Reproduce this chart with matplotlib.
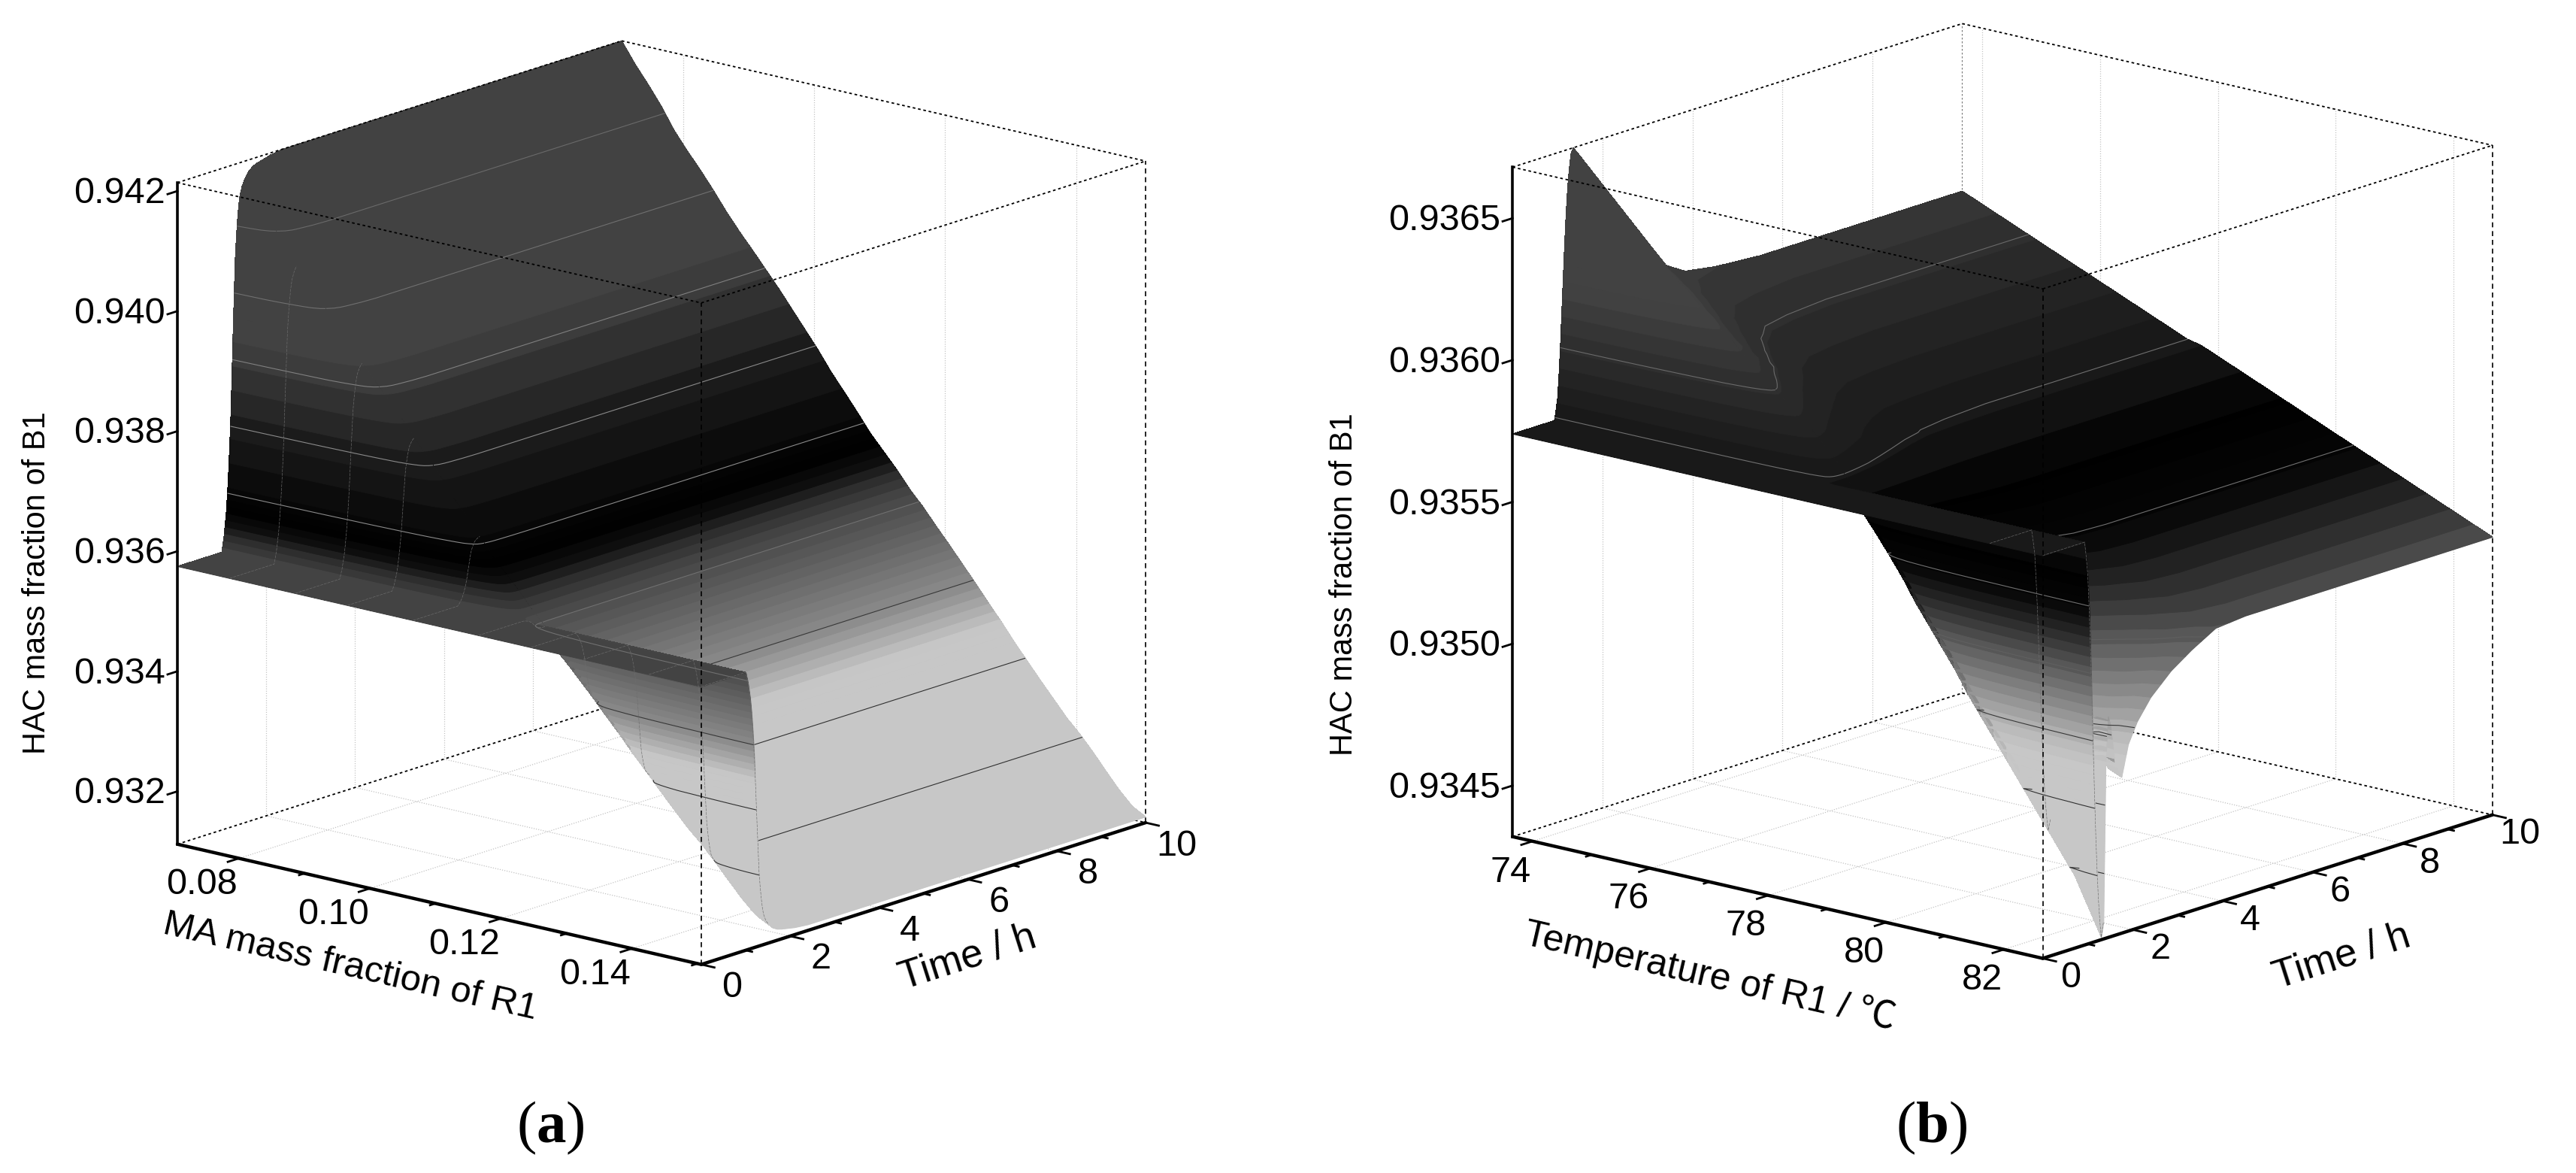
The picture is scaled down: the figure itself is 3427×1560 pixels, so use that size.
import numpy as np
import matplotlib
matplotlib.use("Agg")
import matplotlib.pyplot as plt
from contourpy import contour_generator
from mpl_toolkits.mplot3d import proj3d
from mpl_toolkits.mplot3d.art3d import Poly3DCollection

plt.rcParams['font.family'] = ['Liberation Sans', 'Noto Sans CJK SC']
plt.rcParams['mathtext.fontset'] = 'custom'
plt.rcParams['mathtext.bf'] = 'Liberation Serif:bold'
plt.rcParams['mathtext.rm'] = 'Liberation Serif'

# panel (a), values
ma_a = [0.0706, 0.0726, 0.0746, 0.0766, 0.0786, 0.0806, 0.0826, 0.0846, 0.0866, 0.0886, 0.0906,
        0.0926, 0.0946, 0.0966, 0.0986, 0.1006, 0.1026, 0.1046, 0.1066, 0.1086, 0.1106,
        0.1126, 0.1146, 0.1166, 0.1186, 0.1206, 0.1226, 0.1246, 0.1266, 0.1286, 0.1306,
        0.1326, 0.1346, 0.1366, 0.1386, 0.1406, 0.1426, 0.1446, 0.1466, 0.1486, 0.1506]
hac_final_a = [0.94214, 0.94181, 0.94152, 0.94121, 0.94085, 0.94056, 0.94029, 0.94000, 0.93969, 0.93941, 0.93915,
               0.93888, 0.93861, 0.93832, 0.93803, 0.93774, 0.93742, 0.93714, 0.93685, 0.93655, 0.93630,
               0.93605, 0.93577, 0.93553, 0.93526, 0.93500, 0.93473, 0.93446, 0.93418, 0.93391, 0.93362,
               0.93335, 0.93308, 0.93282, 0.93256, 0.93234, 0.93209, 0.93182, 0.93156, 0.93134, 0.93122]
hac_start_a = 0.93575
time_a = [0, 0.5, 1.0, 1.025, 1.05, 1.075, 1.1, 1.125, 1.15, 1.175, 1.2, 1.225, 1.25, 1.275, 1.3, 1.325,
          1.35, 1.375, 1.4, 1.45, 1.5, 1.6, 1.7, 1.8, 2.1, 2.4, 6, 10]
step_a = [0, 0, 0, 0.02, 0.04, 0.07, 0.10, 0.145, 0.2, 0.265, 0.34, 0.44, 0.55, 0.65, 0.75, 0.805,
          0.85, 0.885, 0.91, 0.935, 0.95, 0.97, 0.98, 0.985, 0.995, 1, 1, 1]
lines_a = [0.9323, 0.9334, 0.9345, 0.9356, 0.9367, 0.9378, 0.9389, 0.9400, 0.9411]
line_grey_a = ['#303030', '#303030', '#383838', '#707070', '#8a8a8a', '#8a8a8a', '#808080', '#707070', '#6a6a6a']
xticks_a = [0.08, 0.10, 0.12, 0.14]
xminor_a = [0.09, 0.11, 0.13, 0.15]
xlabels_a = ['0.08', '0.10', '0.12', '0.14']
zticks_a = [0.932, 0.934, 0.936, 0.938, 0.940, 0.942]
zlabels_a = ['0.932', '0.934', '0.936', '0.938', '0.940', '0.942']
grey_z_a = [0.9300, 0.9339, 0.93446, 0.9355, 0.93575, 0.9360, 0.9362, 0.93645, 0.9368, 0.93728, 0.93775, 0.93808,
            0.93848, 0.9388, 0.9392, 0.9430]
grey_v_a = [0.78, 0.78, 0.55, 0.33, 0.27, 0.18, 0.06, 0.0, 0.03, 0.07, 0.10, 0.14, 0.18, 0.21, 0.26, 0.26]

# panel (b)
temp_b = [73.66, 73.885, 74.11, 74.335, 74.56, 74.785, 75.01, 75.235, 75.46, 75.685, 75.91,
          76.135, 76.36, 76.585, 76.81, 77.035, 77.26, 77.485, 77.71, 77.935, 78.16,
          78.385, 78.61, 78.835, 79.06, 79.285, 79.51, 79.735, 79.96, 80.185, 80.41,
          80.635, 80.86, 81.085, 81.31, 81.535, 81.76, 81.985, 82.21, 82.435, 82.66]
hac_end_b = [0.93609, 0.93607, 0.93605, 0.93603, 0.93601, 0.93599, 0.93597, 0.93595, 0.93593, 0.93591, 0.93589,
             0.93587, 0.93585, 0.93583, 0.93581, 0.93579, 0.93577, 0.93575, 0.93574, 0.93572, 0.93570,
             0.93568, 0.93566, 0.93564, 0.93562, 0.93560, 0.93558, 0.93556, 0.93554, 0.93552, 0.93550,
             0.93548, 0.93546, 0.93544, 0.93542, 0.93540, 0.93538, 0.93536, 0.93534, 0.93532, 0.93530]
hac_peak_b = [0.93668, 0.93663, 0.93658, 0.93653, 0.93648, 0.93643, 0.93638, 0.93633, 0.93628, 0.93624, 0.93620,
              0.93616, 0.93613, 0.93608, 0.93604, 0.93600, 0.93596, 0.93592, 0.93588, 0.93583, 0.93578,
              0.93571, 0.93564, 0.93557, 0.93550, 0.93543, 0.93535, 0.93528, 0.93521, 0.93514, 0.93506,
              0.93499, 0.93492, 0.93485, 0.93478, 0.93471, 0.93464, 0.93457, 0.93450, 0.93440, 0.93430]
hac_start_b = 0.93574
time_b = [0, 0.5, 0.93, 0.96, 1, 1.03, 1.06, 1.09, 1.12, 1.15, 1.18, 1.21, 1.24, 1.27, 1.3, 1.35,
          1.4, 1.45, 1.5, 1.6, 1.75, 1.9, 2.1, 2.4, 2.85, 3.3, 3.84, 4.5, 5.5, 7, 10]
rise_b = [0, 0, 0, 0.03, 0.08, 0.16, 0.26, 0.38, 0.5, 0.62, 0.73, 0.82, 0.89, 0.94, 0.98, 1,
          1, 1, 1, 1, 1, 1, 1, 1, 1, 1, 1, 1, 1, 1, 1]
bump_decay_b = [1, 1, 1, 1, 1, 1, 1, 1, 1, 1, 1, 1, 1, 1, 1, 1,
                0.98, 0.96, 0.93, 0.87, 0.78, 0.69, 0.58, 0.44, 0.27, 0.14, 0.05, 0.02, 0, 0, 0]
dip_decay_b = [1, 1, 1, 1, 1, 1, 1, 1, 1, 1, 1, 1, 1, 1, 1, 0.92,
               0.85, 0.78, 0.71, 0.6, 0.43, 0.33, 0.25, 0.18, 0.11, 0.05, 0.01, 0, 0, 0, 0]
# last column of (b) after the dip, it has its own small notch (rows from t = 1.4 to 3.84)
hac_edge_b = [0.93495, 0.93510, 0.93507, 0.93493, 0.93487, 0.93498, 0.93505, 0.93512, 0.93519, 0.93524, 0.93529]
lines_b = [0.93455, 0.93479, 0.93503, 0.93527, 0.93551, 0.93575, 0.93599]
line_grey_b = ['#303030', '#303030', '#383838', '#606060', '#707070', '#707070', '#6a6a6a']
xticks_b = [74, 76, 78, 80, 82]
xminor_b = [75, 77, 79, 81]
xlabels_b = ['74', '76', '78', '80', '82']
zticks_b = [0.9345, 0.9350, 0.9355, 0.9360, 0.9365]
zlabels_b = ['0.9345', '0.9350', '0.9355', '0.9360', '0.9365']
grey_z_b = [0.9340, 0.93494, 0.9350, 0.9353, 0.93537, 0.9355, 0.93562, 0.93574, 0.9359, 0.9361, 0.9362, 0.9370]
grey_v_b = [0.78, 0.78, 0.73, 0.31, 0.2, 0.02, 0.0, 0.09, 0.14, 0.22, 0.26, 0.26]

time_ticks = [0, 2, 4, 6, 8, 10]
time_minor = [1, 3, 5, 7, 9]

TICK_SIZE = 35


def surface_z(x, t, z, pts):
    # height of the table at the corners of a contour band
    x, t = np.asarray(x), np.asarray(t)
    i = np.clip(np.searchsorted(x, pts[:, 0]) - 1, 0, len(x) - 2)
    j = np.clip(np.searchsorted(t, pts[:, 1]) - 1, 0, len(t) - 2)
    u = (pts[:, 0] - x[i]) / (x[i + 1] - x[i])
    v = (pts[:, 1] - t[j]) / (t[j + 1] - t[j])
    return ((1 - u) * (1 - v) * z[j, i] + u * (1 - v) * z[j, i + 1]
            + (1 - u) * v * z[j + 1, i] + u * v * z[j + 1, i + 1])


def draw_bands(ax, x, t, z, levels, grey_z, grey_v, zorder):
    mids = 0.5 * (levels[:-1] + levels[1:])
    greys = np.interp(mids, grey_z, grey_v)
    # plain quads underneath, a band ring can twist where the sheet folds over and leave gaps
    X, Y = np.meshgrid(x, t)
    g = np.interp(z, grey_z, grey_v)
    ax.plot_surface(X, Y, z, rstride=1, cstride=1, facecolors=np.dstack([g, g, g]), shade=False,
                    linewidth=0, antialiased=False, zorder=zorder - 0.1)
    gen = contour_generator(np.asarray(x), np.asarray(t), z)
    # low bands first: whatever is higher here is also nearer to the viewer
    for k, g in enumerate(greys):
        points, offsets = gen.filled(levels[k], levels[k + 1])
        for pts, off in zip(points, offsets):
            ring = pts[off[0]:off[1]]
            verts = np.column_stack([ring, surface_z(x, t, z, ring)])
            ax.add_collection3d(Poly3DCollection([verts], facecolors=[(g, g, g)], edgecolors=[(g, g, g)],
                                                 linewidths=0.6, zorder=zorder + k * 1e-3))


def put_text(ax, x, y, z, s, **kw):
    # real 2D text at the projected position of a data point
    px, py, _ = proj3d.proj_transform(x, y, z, ax.get_proj())
    ax.text2D(px, py, s, **kw)


def draw_panel(rect, x, t, z, split, xlim, zlim, xticks, xminor, xlabels, zticks, zlabels,
               levels, grey_z, grey_v, lines, line_grey, mesh_cols, off):
    ax = fig.add_axes(rect, projection='3d')
    ax.computed_zorder = False
    ax.set_proj_type('ortho')
    ax.set_box_aspect((1, 1, 1))
    ax.view_init(elev=15.7, azim=-49.7)
    ax.patch.set_visible(False)
    ax.set_axis_off()

    x0, x1 = xlim
    z0, z1 = zlim
    dx, dz = x1 - x0, z1 - z0
    T = 10.0

    # floor grid and the grid on both back walls
    grid = dict(color='#c4c4c4', lw=0.9, ls=(0, (1, 1.5)), zorder=1)
    for v in xticks:
        ax.plot([v, v], [0, T], [z0, z0], **grid)
        ax.plot([v, v], [T, T], [z0, z1], **grid)
    for v in time_ticks[1:-1]:
        ax.plot([x0, x1], [v, v], [z0, z0], **grid)
        ax.plot([x0, x0], [v, v], [z0, z1], **grid)

    # box edges behind the surface
    dots = dict(color='k', lw=1.3, ls=(0, (2, 2)))
    ax.plot([x0, x0], [0, T], [z0, z0], zorder=1.5, **dots)
    ax.plot([x0, x1], [T, T], [z0, z0], zorder=1.5, **dots)
    ax.plot([x0, x0], [T, T], [z0, z1], color='#808080', lw=0.9, ls=(0, (2, 2)), zorder=1.5)

    tt = np.asarray(t)
    # the part behind the step goes first, the step and the start strip are painted over it
    draw_bands(ax, x, tt[split:], z[split:], levels, grey_z, grey_v, 2)
    ax.contour(np.asarray(x), tt[split:], z[split:], levels=lines, colors=line_grey, linewidths=0.8, zorder=3)
    draw_bands(ax, x, tt[:split + 1], z[:split + 1], levels, grey_z, grey_v, 4)
    ax.contour(np.asarray(x), tt[:split + 1], z[:split + 1], levels=lines, colors=line_grey, linewidths=0.8, zorder=5)
    for c in mesh_cols:
        ax.plot(np.full(split + 1, x[c]), tt[:split + 1], z[:split + 1, c], color='#6e6e6e', lw=0.45,
                ls=(0, (6, 2)), zorder=5)

    # box edges in front of the surface
    ax.plot([x0, x1], [0, 0], [z1, z1], zorder=6, **dots)
    ax.plot([x1, x1], [0, T], [z1, z1], zorder=6, **dots)
    ax.plot([x0, x0], [0, T], [z1, z1], zorder=6, **dots)
    ax.plot([x0, x1], [T, T], [z1, z1], zorder=6, **dots)
    dash = dict(color='k', lw=1.2, ls=(0, (4, 3)), zorder=6)
    ax.plot([x1, x1], [0, 0], [z0, z1], **dash)
    ax.plot([x1, x1], [T, T], [z0, z1], **dash)

    # the three solid axes
    solid = dict(color='k', lw=3.2, zorder=7, solid_capstyle='round')
    ax.plot([x0, x1], [0, 0], [z0, z0], **solid)
    ax.plot([x1, x1], [0, T], [z0, z0], **solid)
    ax.plot([x0, x0], [0, 0], [z0, z1], color='k', lw=2.6, zorder=7)

    tick = dict(color='k', lw=2.0, zorder=7)
    for v in xticks:
        ax.plot([v, v], [0, -0.25], [z0, z0], **tick)
    for v in xminor:
        ax.plot([v, v], [0, -0.12], [z0, z0], **tick)
    for v in time_ticks:
        ax.plot([x1, x1 + 0.025 * dx], [v, v], [z0, z0], **tick)
    for v in time_minor:
        ax.plot([x1, x1 + 0.012 * dx], [v, v], [z0, z0], **tick)
    for v in zticks:
        ax.plot([x0, x0], [0, -0.22], [v, v], **tick)

    ax.set_xlim(x0, x1)
    ax.set_ylim(0, T)
    ax.set_zlim(z0, z1)

    # tick labels
    for v, s in zip(xticks, xlabels):
        put_text(ax, v, off['xt'][0] * T, z0 + off['xt'][1] * dz, s, ha='center', va='center', fontsize=TICK_SIZE)
    for v in time_ticks:
        put_text(ax, x1 + off['yt'][0] * dx, v, z0 + off['yt'][1] * dz, str(v), ha='center', va='center',
                 fontsize=TICK_SIZE)
    for v, s in zip(zticks, zlabels):
        put_text(ax, x0 - 0.01335 * dx, -0.114, v - 0.004 * dz, s, ha='right', va='center', fontsize=TICK_SIZE)

    # axis titles
    put_text(ax, 0.5 * (x0 + x1), off['xl'][0] * T, z0 + off['xl'][1] * dz, off['xlabel'], rotation=-13,
             rotation_mode='anchor', ha='center', va='center', fontsize=off['xsize'])
    put_text(ax, x1 + off['yl'][0] * dx, 5, z0 + off['yl'][1] * dz, 'Time / h', rotation=17.7,
             rotation_mode='anchor', ha='center', va='center', fontsize=38)
    put_text(ax, x0 - off['zl'][0] * dx, -off['zl'][1] * T, z0 + off['zl'][2] * dz, 'HAC mass fraction of B1',
             rotation=90, rotation_mode='anchor', ha='center', va='center', fontsize=30)
    return ax


W, H = 3427, 1560
fig = plt.figure(figsize=(W / 100, H / 100), dpi=100)

# panel (a) surface: start value, then the step up or down to the final value of each column
hac_a = hac_start_a + np.outer(step_a, np.array(hac_final_a) - hac_start_a)
levels_a = np.concatenate([np.arange(0.9300, 0.9368, 0.00011), np.arange(0.9368, 0.9435, 0.0004)])

end_b = np.array(hac_end_b)
peak_b = np.array(hac_peak_b)
decay_b = np.where((peak_b >= end_b)[None, :], np.array(bump_decay_b)[:, None], np.array(dip_decay_b)[:, None])
hac_b = hac_start_b + np.array(rise_b)[:, None] * (end_b + (peak_b - end_b) * decay_b - hac_start_b)
hac_b[16:27, 40] = hac_edge_b
hac_b[16:27, 39] = np.array(hac_edge_b) + 0.00002
levels_b = np.concatenate([np.arange(0.9340, 0.93562, 0.000035), np.arange(0.93562, 0.9372, 0.00006)])


def px_rect(cx, cy, side):
    # the centre of an ortho box sits at 0.5135 of the axes, width follows from the box side
    w = side / 0.5948
    return [(cx - 0.5135 * w) / W, (H - cy - 0.5135 * w) / H, w / W, w / H]


off_a = dict(xt=(-0.083, -0.022), yt=(0.059, -0.0245), xl=(-0.2, -0.0516), yl=(0.0847, -0.081),
             zl=(0.156, 0.1327, 0.395), xlabel='MA mass fraction of R1', xsize=35.5)
off_b = dict(xt=(-0.049, -0.0358), yt=(0.052, -0.02), xl=(-0.1515, -0.085), yl=(0.14, -0.079),
             zl=(0.185, 0.1575, 0.377), xlabel='Temperature of R1 / ℃', xsize=36)

draw_panel(px_rect(880, 668.5, 914), ma_a, time_a, hac_a, 20, (0.0706, 0.1506), (0.93112, 0.94214),
           xticks_a, xminor_a, xlabels_a, zticks_a, zlabels_a, levels_a, grey_z_a, grey_v_a,
           lines_a, line_grey_a, [4, 9, 13, 18, 23, 27, 31, 36, 40], off_a)
draw_panel(px_rect(2664, 653, 925), temp_b, time_b, hac_b, 15, (73.66, 82.66), (0.93432, 0.93668),
           xticks_b, xminor_b, xlabels_b, zticks_b, zlabels_b, levels_b, grey_z_b, grey_v_b,
           lines_b, line_grey_b, [36, 40], off_b)

caption = dict(ha='center', va='center', fontsize=57, family='Liberation Serif')
fig.text(732 / W, 1 - 1500 / H, r'($\mathbf{a}$)', **caption)
fig.text(2570 / W, 1 - 1500 / H, r'($\mathbf{b}$)', **caption)

fig.savefig('out.png', dpi=100)
